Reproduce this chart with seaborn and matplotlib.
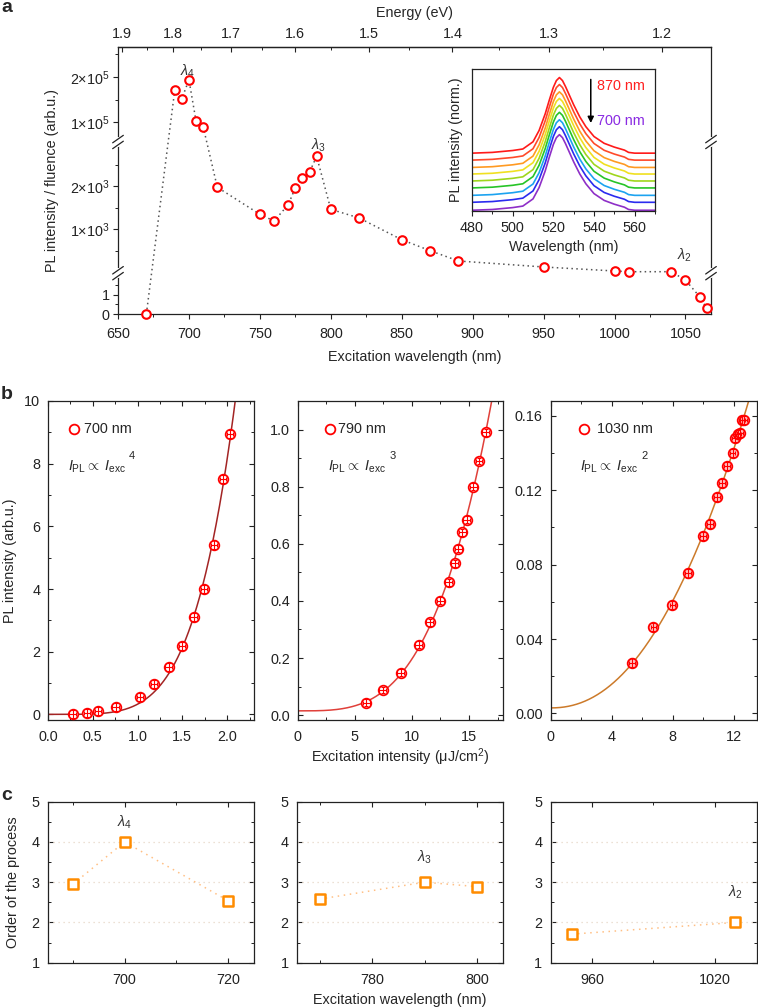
import numpy as np
import matplotlib
matplotlib.use('Agg')
import matplotlib.pyplot as plt
import matplotlib.ticker as ticker
import seaborn as sns

# ---- panel a: PL / fluence vs excitation wavelength
exc_wl = [670, 690, 695, 700, 705, 710, 720, 750, 760, 770, 775, 780, 785, 790,
          800, 820, 850, 870, 890, 950, 1000, 1010, 1040, 1050, 1060, 1065]
pl_fluence = [0, 1.71e5, 1.52e5, 1.94e5, 1.03e5, 0.91e5, 1979, 1351, 1195, 1574,
              1970, 2195, 2330, 2700, 1467, 1265, 760, 505, 265, 126, 33, 16, 16,
              1.78, 0.91, 0.30]
a_ytick_vals = [0, 1, 1000, 2000, 1e5, 2e5]
a_ytick_labels = ['0', '1', r'$1{\times}10^3$', r'$2{\times}10^3$',
                  r'$1{\times}10^5$', r'$2{\times}10^5$']
a_yminor_vals = [0.5, 1.5, 500, 1500, 2500, 1.5e5, 2.5e5]
energy_ticks = [1.9, 1.8, 1.7, 1.6, 1.5, 1.4, 1.3, 1.2]

# ---- inset: normalised PL spectra (one profile, offset per excitation)
spec_wl = [480, 490, 500, 505, 510, 513, 516, 518, 520, 521.5, 523, 524.5, 526,
           528, 530, 533, 536, 540, 545, 550, 555, 557, 560, 570]
spec_norm = [0, 0.01, 0.035, 0.055, 0.15, 0.3, 0.52, 0.7, 0.87, 0.96, 1.0, 0.96,
             0.88, 0.76, 0.64, 0.48, 0.35, 0.22, 0.13, 0.08, 0.04, 0.01, 0.0, 0.0]
spec_offsets = [0, 0.105, 0.197, 0.295, 0.387, 0.479, 0.566, 0.663, 0.755]
spec_colors = ['#8e2fc7', '#2b2bef', '#1ca3f0', '#27c427', '#9fd61c',
               '#f0e020', '#ff9a22', '#ff4a2a', '#ff1a1a']

# ---- panel b: power dependence
b1_x = [0.275, 0.435, 0.558, 0.755, 1.027, 1.18, 1.346, 1.495, 1.625, 1.745, 1.856, 1.953, 2.035]
b1_y = [0.02, 0.05, 0.1, 0.24, 0.55, 0.96, 1.5, 2.17, 3.12, 4.0, 5.42, 7.5, 8.94]
b2_x = [6.0, 7.45, 9.04, 10.6, 11.56, 12.49, 13.21, 13.74, 14.08, 14.43, 14.81, 15.36, 15.88, 16.46]
b2_y = [0.043, 0.088, 0.148, 0.247, 0.325, 0.40, 0.465, 0.531, 0.583, 0.64, 0.685, 0.80, 0.89, 0.991]
b3_x = [5.34, 6.73, 7.97, 8.98, 9.96, 10.44, 10.87, 11.2, 11.55, 11.9, 12.07, 12.25, 12.4, 12.55, 12.68]
b3_y = [0.0274, 0.0466, 0.0585, 0.0753, 0.0956, 0.102, 0.1166, 0.124, 0.133, 0.140,
        0.148, 0.150, 0.151, 0.158, 0.158]
b_labels = ['700 nm', '790 nm', '1030 nm']
b_orders = [4, 3, 2]
b_fit_offsets = [0.0, 0.015, 0.003]   # baseline of the fitted curves, read at x = 0

# ---- panel c: order of the process
c1_x, c1_y = [690, 700, 720], [2.95, 4.0, 2.54]
c2_x, c2_y = [770, 790, 800], [2.58, 3.0, 2.89]
c3_x, c3_y = [950, 1030], [1.71, 2.0]

W, H = 758, 1008
FS = 10.4


def rect(l, t, r, b):
    return [l / W, 1 - b / H, (r - l) / W, (b - t) / H]


def fpos(x, y):
    return x / W, 1 - y / H


def power_fit(xs, ys, n0, c):
    # y = a * x**n + c, with the baseline c fixed; exponent refined near nominal order
    xa, ya = np.asarray(xs, float), np.asarray(ys, float) - c
    best = None
    for n in np.arange(n0 - 0.8, n0 + 1.2, 0.01):
        p = xa ** n
        a = np.sum(p * ya) / np.sum(p * p)
        r = np.sum((a * p - ya) ** 2)
        if best is None or r < best[0]:
            best = (r, n, a)
    return best[1], best[2]


sns.set_theme(style='ticks')
plt.rcParams['font.family'] = ['Liberation Sans', 'DejaVu Sans']
plt.rcParams.update({
    'font.size': FS, 'axes.labelsize': FS, 'xtick.labelsize': FS, 'ytick.labelsize': FS,
    'mathtext.fontset': 'custom', 'mathtext.rm': 'Liberation Sans',
    'mathtext.it': 'Liberation Sans:italic', 'mathtext.bf': 'Liberation Sans:bold',
    'axes.linewidth': 0.9, 'axes.edgecolor': '#222222',
    'xtick.color': '#222222', 'ytick.color': '#222222',
    'xtick.major.size': 3.5, 'ytick.major.size': 3.5,
    'xtick.minor.size': 2.2, 'ytick.minor.size': 2.2,
    'xtick.major.width': 0.8, 'ytick.major.width': 0.8,
    'xtick.minor.width': 0.7, 'ytick.minor.width': 0.7,
})

fig = plt.figure(figsize=(W / 100, H / 100), dpi=100)

# ================= panel a =================
ax = fig.add_axes(rect(118, 47, 711, 314))

# broken y axis as a piecewise linear scale
seg_vals = [0, 2.1, 2.2, 3025, 5.8e4, 2.66e5]
seg_pos = [0, 40, 41.7, 171.7, 172.5, 267]


def fwd(v):
    return np.interp(v, seg_vals, seg_pos)


def inv(p):
    return np.interp(p, seg_pos, seg_vals)


ax.set_yscale('function', functions=(fwd, inv))
ax.set_ylim(0, 2.66e5)
ax.set_xlim(650, 1068)

sns.lineplot(x=exc_wl, y=pl_fluence, ax=ax, color='#555555', lw=1.1,
             linestyle=(0, (1, 2.2)), errorbar=None, sort=False)
sns.scatterplot(x=exc_wl, y=pl_fluence, ax=ax, s=38, facecolor='white',
                edgecolor='#ff0000', linewidth=1.5, zorder=4, clip_on=False)

ax.yaxis.set_major_locator(ticker.FixedLocator(a_ytick_vals))
ax.yaxis.set_major_formatter(ticker.FixedFormatter(a_ytick_labels))
ax.yaxis.set_minor_locator(ticker.FixedLocator(a_yminor_vals))
ax.xaxis.set_major_locator(ticker.MultipleLocator(50))
ax.xaxis.set_minor_locator(ticker.MultipleLocator(25))
ax.tick_params(which='both', direction='out', right=False, top=False)
ax.tick_params(axis='x', pad=6)
ax.tick_params(axis='y', pad=2.5)
ax.set_xlabel('')
ax.set_ylabel('')

with np.errstate(divide='ignore'):
    sec = ax.secondary_xaxis('top', functions=(lambda x: 1240 / np.asarray(x, float),
                                               lambda e: 1240 / np.asarray(e, float)))
sec.set_xticks(energy_ticks)
sec.xaxis.set_major_formatter(ticker.FormatStrFormatter('%.1f'))
sec.xaxis.set_minor_locator(ticker.FixedLocator(np.arange(1.15, 1.96, 0.05)))
sec.tick_params(which='both', direction='in', pad=4.5)

# break marks
for yb in [40.8 / 267, 172 / 267]:
    for xb in [0, 1]:
        ax.plot([xb, xb], [yb - 0.012, yb + 0.012], transform=ax.transAxes,
                color='white', lw=3, clip_on=False, zorder=5)
        for g in [-0.011, 0.011]:
            ax.plot([xb - 0.009, xb + 0.009], [yb + g - 0.014, yb + g + 0.014],
                    transform=ax.transAxes, color='#222222', lw=0.9,
                    clip_on=False, zorder=6)

ax.text(699, 2.13e5, r'$\lambda_4$', ha='center', va='center', color='#333333')
ax.text(791, 2960, r'$\lambda_3$', ha='center', va='center', color='#333333')
ax.text(1049, 390, r'$\lambda_2$', ha='center', va='center', color='#333333')

fig.text(*fpos(414.5, 12.7), 'Energy (eV)', ha='center', va='center')
fig.text(*fpos(414.5, 356.7), 'Excitation wavelength (nm)', ha='center', va='center')
fig.text(*fpos(52, 180.5), 'PL intensity / fluence (arb.u.)', ha='center', va='center',
         rotation=90)

# inset
axi = fig.add_axes(rect(472, 69, 655, 211))
for off, col in zip(spec_offsets, spec_colors):
    sns.lineplot(x=spec_wl, y=np.asarray(spec_norm) + off, ax=axi, color=col,
                 lw=1.2, errorbar=None)
axi.set_xlim(480, 570)
axi.set_ylim(-0.01, 1.868)
axi.set_yticks([])
axi.xaxis.set_major_locator(ticker.MultipleLocator(20))
axi.xaxis.set_minor_locator(ticker.MultipleLocator(10))
axi.tick_params(which='both', direction='out', top=False, right=False)
axi.set_xlabel('')
axi.annotate('', xy=(0.649, 0.6), xytext=(0.649, 0.946), xycoords='axes fraction',
             arrowprops=dict(arrowstyle='-|>', color='black', lw=1.1, mutation_scale=9))
axi.text(0.683, 0.882, '870 nm', transform=axi.transAxes, color='#ff2020', va='center')
axi.text(0.683, 0.636, '700 nm', transform=axi.transAxes, color='#8a2be2', va='center')
fig.text(*fpos(563.5, 246.7), 'Wavelength (nm)', ha='center', va='center')
fig.text(*fpos(456, 140), 'PL intensity (norm.)', ha='center', va='center', rotation=90)

# ================= panel b =================
b_rects = [rect(48, 401, 254, 720), rect(297.5, 401, 503.3, 720), rect(550.5, 401, 757, 720)]
b_data = [(b1_x, b1_y), (b2_x, b2_y), (b3_x, b3_y)]
b_xlims = [(0, 2.3), (0, 18), (0, 13.5)]
b_ylims = [(-0.18, 10), (-0.017, 1.1), (-0.0035, 0.168)]
b_xmaj = [0.5, 5, 4]
b_ymaj = [2, 0.2, 0.04]
b_yfmt = ['%d', '%.1f', '%.2f']
b_xfmt = ['%.1f', '%d', '%d']
b_xerr = [0.035, 0.3, 0.18]
b_yerr = [0.13, 0.012, 0.0022]
b_fitcol = ['#a32424', '#e0403a', '#cc7a2a']
b_face = ['white', 'white', '#ffc4c4']
b_leg = [(0.126, 0.175, 0.097), (0.158, 0.197, 0.148), (0.162, 0.225, 0.143)]

for i in range(3):
    axb = fig.add_axes(b_rects[i])
    xs, ys = b_data[i]
    c0 = b_fit_offsets[i]
    n_fit, a_fit = power_fit(xs, ys, b_orders[i], c0)
    xf = np.linspace(0, b_xlims[i][1], 300)
    sns.lineplot(x=xf, y=a_fit * xf ** n_fit + c0, ax=axb, color=b_fitcol[i],
                 lw=1.1, errorbar=None)
    sns.scatterplot(x=xs, y=ys, ax=axb, s=48, facecolor=b_face[i], edgecolor='#ff0000',
                    linewidth=1.3, zorder=4)
    axb.errorbar(xs, ys, xerr=b_xerr[i], yerr=b_yerr[i], fmt='none', ecolor='#ff0000',
                 elinewidth=0.8, capsize=1.5, capthick=0.8, zorder=5)
    axb.set_xlim(*b_xlims[i])
    axb.set_ylim(*b_ylims[i])
    axb.xaxis.set_major_locator(ticker.MultipleLocator(b_xmaj[i]))
    axb.xaxis.set_minor_locator(ticker.MultipleLocator(b_xmaj[i] / 2))
    axb.yaxis.set_major_locator(ticker.MultipleLocator(b_ymaj[i]))
    axb.yaxis.set_minor_locator(ticker.MultipleLocator(b_ymaj[i] / 2))
    axb.xaxis.set_major_formatter(ticker.FormatStrFormatter(b_xfmt[i]))
    axb.yaxis.set_major_formatter(ticker.FormatStrFormatter(b_yfmt[i]))
    axb.tick_params(which='both', direction='in', top=True, right=True)
    axb.tick_params(axis='x', pad=7.5)
    axb.tick_params(axis='y', pad=5.5)
    axb.set_xlabel('')
    axb.set_ylabel('')
    mx, tx, fx = b_leg[i]
    axb.plot([mx], [0.913], transform=axb.transAxes, marker='o', ms=7, mfc='none',
             mec='#ff0000', mew=1.3, clip_on=False)
    axb.text(tx, 0.913, b_labels[i], transform=axb.transAxes, va='center')
    axb.text(fx, 0.794, r'$I_{\mathrm{PL}} \propto\ I_{\mathrm{exc}}$',
             transform=axb.transAxes, va='center')
    axb.annotate(str(b_orders[i]), xy=(fx, 0.794), xycoords='axes fraction',
                 xytext=(44, 8), textcoords='offset points', va='center', fontsize=8)

fig.text(*fpos(400.5, 757), r'Excitation intensity (μJ/cm$^2$)', ha='center', va='center')
fig.text(*fpos(10, 560.5), 'PL intensity (arb.u.)', ha='center', va='center', rotation=90)

# ================= panel c =================
c_rects = [rect(48, 801.7, 254, 962.7), rect(297, 801.7, 503.3, 962.7),
           rect(550.5, 801.7, 757, 962.7)]
c_data = [(c1_x, c1_y), (c2_x, c2_y), (c3_x, c3_y)]
c_xlims = [(685.2, 725), (765.7, 805), (939.5, 1040.8)]
c_xmaj = [20, 20, 60]
c_lam = [(700, 4.5, r'$\lambda_4$'), (790, 3.63, r'$\lambda_3$'), (1030, 2.75, r'$\lambda_2$')]

for i in range(3):
    axc = fig.add_axes(c_rects[i])
    xs, ys = c_data[i]
    for yl in [2, 3, 4]:
        axc.axhline(yl, color='#e6d6c6', lw=0.9, ls=(0, (1, 3)), zorder=1)
    sns.lineplot(x=xs, y=ys, ax=axc, color='#ffb066', lw=1.1, ls=(0, (1, 3)),
                 errorbar=None, zorder=2, alpha=0.8)
    sns.scatterplot(x=xs, y=ys, ax=axc, marker='s', s=56, facecolor='white',
                    edgecolor='#ff8c00', linewidth=1.8, zorder=4)
    axc.set_xlim(*c_xlims[i])
    axc.set_ylim(1, 5)
    axc.xaxis.set_major_locator(ticker.MultipleLocator(c_xmaj[i]))
    axc.xaxis.set_minor_locator(ticker.MultipleLocator(c_xmaj[i] / 2))
    axc.yaxis.set_major_locator(ticker.MultipleLocator(1))
    axc.yaxis.set_minor_locator(ticker.MultipleLocator(0.5))
    axc.tick_params(which='both', direction='in', top=True, right=True)
    axc.tick_params(axis='x', pad=7.5)
    axc.tick_params(axis='y', pad=6)
    axc.set_xlabel('')
    axc.set_ylabel('')
    lx, ly, lt = c_lam[i]
    axc.text(lx, ly, lt, ha='center', va='center', color='#333333')

fig.text(*fpos(400, 1000), 'Excitation wavelength (nm)', ha='center', va='center')
fig.text(*fpos(13, 882), 'Order of the process', ha='center', va='center', rotation=90)

# panel letters
for lt, yy in [('a', 8), ('b', 395), ('c', 795)]:
    fig.text(*fpos(1, yy), lt, fontsize=14, fontweight='bold', va='center', ha='left')

fig.savefig('out.png', dpi=100)
